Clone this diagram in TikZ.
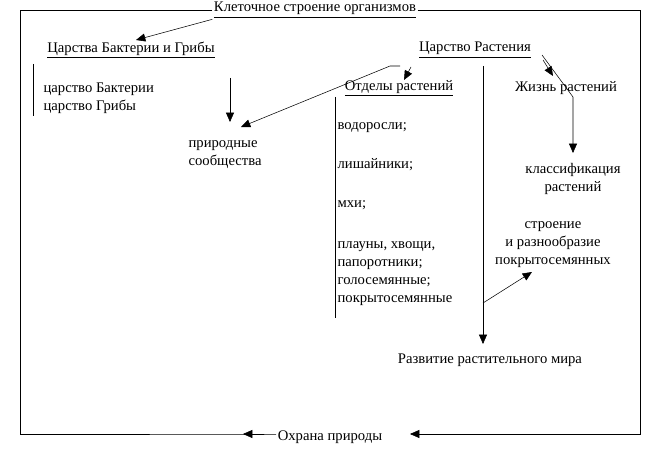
\documentclass[tikz,border=0pt]{standalone}
\usepackage{fontspec}
\setmainfont{Liberation Serif}
\usetikzlibrary{arrows.meta}
\newcommand{\ul}[1]{\underline{#1}}

\begin{document}
\begin{tikzpicture}[x=0.75pt, y=-0.75pt, font=\fontsize{11}{13.5}\selectfont, >={Triangle[length=7pt,width=6pt]}]
  \tikzset{every node/.style={inner sep=1pt},
    lbl/.style={anchor=west, align=left},
    ctr/.style={align=center}}
  \useasboundingbox (0,0) rectangle (650,467);
  % headings
  \node (cell) at (315,10) {\ul{Клеточное строение организмов}};
  \node (bact) at (131,50) {\ul{Царства Бактерии и Грибы}};
  \node (plant) at (475,50) {\ul{Царство Растения}};
  \node (div) at (399,88) {\ul{Отделы растений}};
  \node (life) at (566,88) {Жизнь растений};
  % texts
  \node[lbl] (kings) at (42,98) {царство Бактерии\\царство Грибы};
  \node[lbl] (comm) at (187,155) {природные\\сообщества};
  \node[ctr] (class) at (573,179) {классификация\\растений};
  \node[ctr] (angio) at (553,245) {строение\\и разнообразие\\покрытосемянных};
  \node (evol) at (490,360) {Развитие растительного мира};
  \node (prot) at (330,437) {Охрана природы};
  \node[lbl] (alg) at (336,128) {водоросли;};
  \node[lbl] (lich) at (336,165) {лишайники;};
  \node[lbl] (moss) at (336,205) {мхи;};
  \node[lbl] (rest) at (336,274) {плауны, хвощи,\\папоротники;\\голосемянные;\\покрытосемянные};
  % frame
  \draw (cell.west) -- (20,10) -- (20,434) -- (prot.west |- 20,434) [->] -- (243,434);
  \draw[->] (cell.east) -- (640,10) -- (640,434) -- (410,434);
  % connectors
  \draw[->] (cell.south west) -- (136,40);
  \draw (33,64) -- (33,116);
  \draw[->] (230,78) -- (230,122);
  \draw[->] (400,66) -- (390,66) -- (241,127);
  \draw[->] (411,67) -- (404,80);
  \draw (335,97) -- (335,318);
  \draw[->] (483,66) -- (483,344);
  \draw[->] (483,303) -- (532,272);
  \draw[->] (543,60) -- (553,76);
  \draw[->] (542,55) -- (573,97) -- (573,153);
\end{tikzpicture}
\end{document}
